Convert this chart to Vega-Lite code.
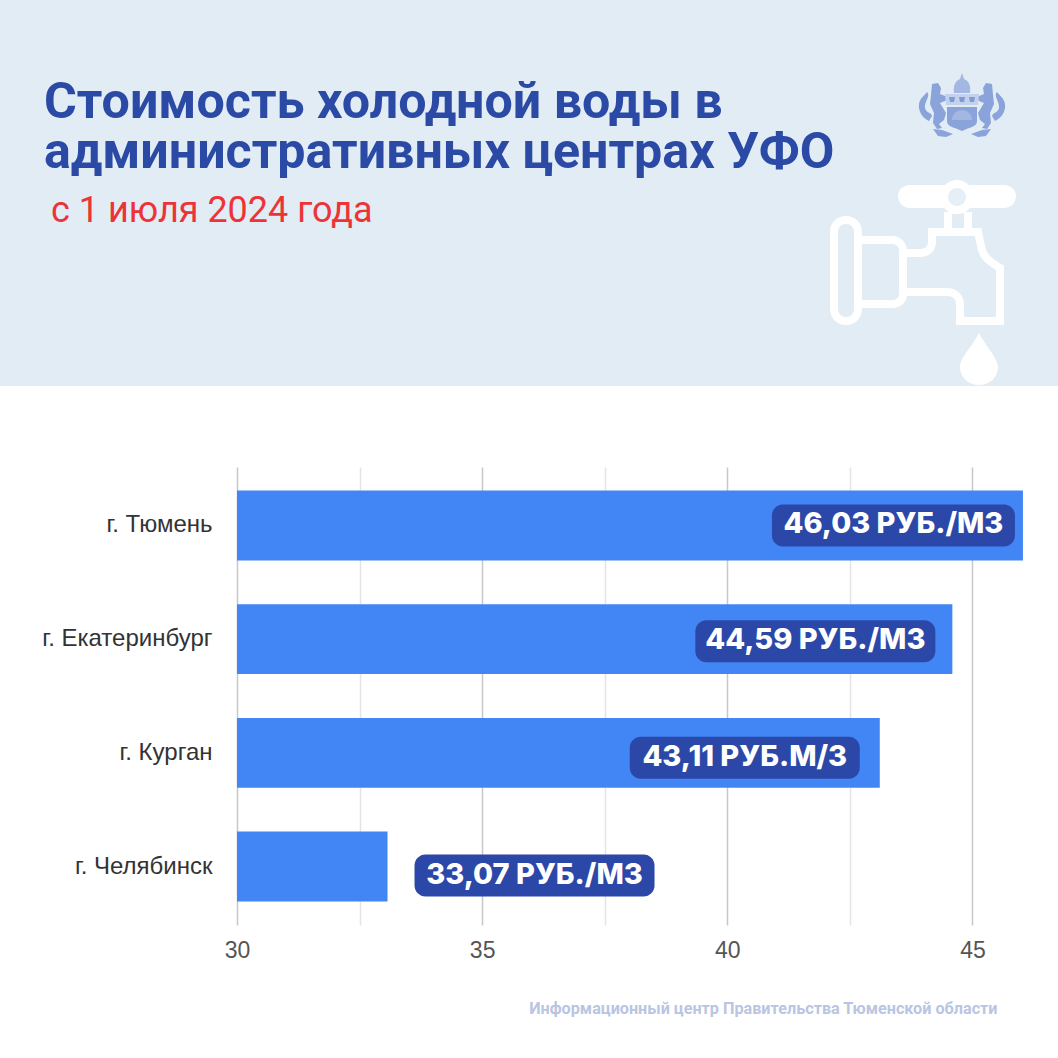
{
"$schema":"https://vega.github.io/schema/vega-lite/v6.json",
"padding":0,"spacing":81,"background":"#ffffff",
"config":{"view":{"stroke":null},"font":"Roboto"},
"datasets":{"prices":[
{"city":"г. Тюмень","price":46.03,"base":30,"label":"46,03 РУБ./М3"},
{"city":"г. Екатеринбург","price":44.59,"base":30,"label":"44,59 РУБ./М3"},
{"city":"г. Курган","price":43.11,"base":30,"label":"43,11 РУБ.М/3"},
{"city":"г. Челябинск","price":33.07,"base":30,"label":"33,07 РУБ./М3"}
],"one":[{"note":"с 1 июля 2024 года"}]},
"vconcat":[
{"width":1058,"height":386,
"view":{"fill":"#e1ecf4","stroke":null},
"title":{"text":["Стоимость холодной воды в","административных центрах УФО"],"anchor":"start","frame":"group","dx":44,"dy":102,"offset":-116,"baseline":"alphabetic","font":"Roboto","fontWeight":700,"fontSize":50.2,"lineHeight":50,"color":"#2b4aa5"},
"data":{"name":"one"},
"encoding":{"x":{"datum":0,"type":"quantitative","scale":{"domain":[0,1058],"range":[0,1058]},"axis":null},"y":{"datum":0,"type":"quantitative","scale":{"domain":[0,386],"range":[0,386]},"axis":null}},
"layer":[
{"mark":{"type":"text","align":"left","baseline":"alphabetic","font":"Roboto","fontSize":36,"color":"#ee3338"},"encoding":{"x":{"datum":51},"y":{"datum":222},"text":{"field":"note"}}},
{"mark":{"type":"point","filled":false,"stroke":"#ffffff","strokeWidth":8,"opacity":1,"size":4,"shape":"M846 220 C853 220 858 225 858 232 L858 309 C858 316 853 321 846 321 C839 321 834 316 834 309 L834 232 C834 225 839 220 846 220 Z M858 240 L892 240 C899 240 903 245 903 252 L903 294 C903 300 899 304 892 304 L858 304 M903 253 L920 253 C927 253 932 249 932 242 L932 232 L978 232 L981 246 C982 256 990 262 1000 268 L1000 321 L960 321 L960 305 C960 297 955 292 947 292 L903 292 M948 232 L948 212 M968 232 L968 212"}},
{"mark":{"type":"point","filled":true,"fill":"#ffffff","opacity":1,"size":4,"shape":"M910 185 L945 185 A17 17 0 0 1 969 185 L1004 185 C1011 185 1016 190 1016 196 C1016 203 1011 208 1004 208 L970 208 A17 17 0 0 1 944 208 L910 208 C903 208 898 203 898 196 C898 190 903 185 910 185 Z M979 333 C985 345 998 358 998 367 C998 377 990 385 979 385 C968 385 960 377 960 367 C960 358 973 345 979 333 Z"}},
{"mark":{"type":"point","filled":true,"fill":"#e6eff6","opacity":1,"size":4,"shape":"M957 188 A9 9 0 0 1 957 206 A9 9 0 0 1 957 188 Z"}},
{"mark":{"type":"point","filled":true,"fill":"#8aa3da","opacity":1,"size":4,"shape":"M932 84 L938 83 L941 88 L940 94 L945 96 L951 94 L945 101 L940 103 L946 113 L944 120 L939 124 L942 128 L937 129 L933 123 L934 113 L930 104 L931 95 Z M927 92 C931 96 924 102 925 108 C926 113 931 112 932 116 L929 121 C923 118 918 112 919 104 C920 98 924 96 927 92 Z M933 129 L942 130 L953 134 L946 137 L938 136 Z M992 84 L986 83 L983 88 L984 94 L979 96 L973 94 L979 101 L984 103 L978 113 L980 120 L985 124 L982 128 L987 129 L991 123 L990 113 L994 104 L993 95 Z M997 92 C993 96 1000 102 999 108 C998 113 993 112 992 116 L995 121 C1001 118 1006 112 1005 104 C1004 98 1000 96 997 92 Z M991 129 L982 130 L971 134 L978 137 L986 136 Z M947 107 L977 107 L977 121 C977 127 970 127 962 131 C954 127 947 127 947 121 Z"}},
{"mark":{"type":"point","filled":true,"fill":"#a3b7e2","opacity":1,"size":4,"shape":"M962 73 L964 79 C969 81 971 86 970 93 L954 93 C953 86 955 81 960 79 Z M952 120 A10 10 0 0 1 972 120 Z"}},
{"mark":{"type":"point","filled":true,"fill":"#c3d1ec","opacity":1,"size":4,"shape":"M945 94 L979 94 L978 105 L946 105 Z"}},
{"mark":{"type":"point","filled":true,"fill":"#7f9ad6","opacity":1,"size":4,"shape":"M949 97 L955 97 L954 102 L950 102 Z M959 97 L965 97 L964 102 L960 102 Z M969 97 L975 97 L974 102 L970 102 Z"}}
]},
{"width":1058,"height":458,
"data":{"name":"prices"},
"encoding":{"y":{"field":"city","type":"nominal","sort":null,"title":null,"scale":{"paddingInner":0.385,"paddingOuter":0.2065},"axis":{"orient":"left","offset":-212,"domain":false,"ticks":false,"labelPadding":0,"labelFont":"Liberation Sans","labelFontSize":24,"labelColor":"#333333","labelLimit":300}}},
"layer":[
{"mark":{"type":"bar","color":"#4285f4"},"encoding":{"x":{"field":"price","type":"quantitative","title":"Информационный центр Правительства Тюменской области","scale":{"domain":[25.166,46.745],"nice":false,"zero":false},"axis":{"values":[30,32.5,35,37.5,40,42.5,45],"labelExpr":"datum.value%5==0?datum.value:''","labelFontSize":23,"labelFont":"Liberation Sans","labelColor":"#555555","labelPadding":14,"labelOverlap":false,"domain":false,"ticks":false,"grid":true,"gridWidth":1.5,"gridColor":{"condition":{"test":"datum.value%5==0","value":"#c8c8c8"},"value":"#e4e4e4"},"titleX":997,"titleY":88,"titleAnchor":"end","titleAlign":"right","titleBaseline":"alphabetic","titleFont":"Roboto","titleFontWeight":700,"titleFontSize":16.2,"titleColor":"#b9c5e2"}},"x2":{"field":"base"}}},
{"mark":{"type":"bar","color":"#2b48a8","size":42,"cornerRadius":11,
"xOffset":{"expr":"datum.city==='г. Тюмень'?-251:datum.city==='г. Екатеринбург'?-257:datum.city==='г. Курган'?-250:27"},
"x2Offset":{"expr":"datum.city==='г. Тюмень'?-8:datum.city==='г. Екатеринбург'?-17:datum.city==='г. Курган'?-20:267"},
"yOffset":{"expr":"datum.city==='г. Екатеринбург'?2:datum.city==='г. Курган'?5:datum.city==='г. Челябинск'?9:0"}},
"encoding":{"x":{"field":"price","type":"quantitative"},"x2":{"field":"price"}}},
{"mark":{"type":"text","color":"#ffffff","font":"Inter","fontWeight":800,"fontSize":29,"align":"center","baseline":"middle",
"xOffset":{"expr":"datum.city==='г. Тюмень'?-129.5:datum.city==='г. Екатеринбург'?-137:datum.city==='г. Курган'?-135:147"},
"yOffset":{"expr":"datum.city==='г. Екатеринбург'?1:datum.city==='г. Курган'?4:datum.city==='г. Челябинск'?8:-1"}},
"encoding":{"x":{"field":"price","type":"quantitative"},"text":{"field":"label"}}}
]}
]}
